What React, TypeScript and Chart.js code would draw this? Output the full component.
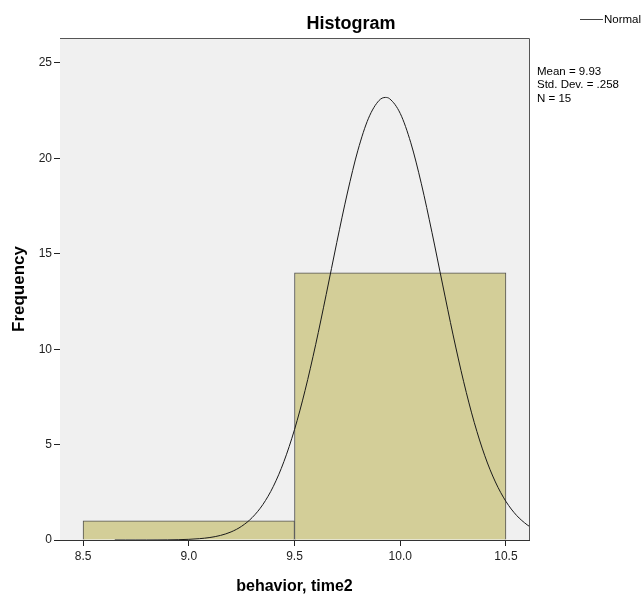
import React, { useEffect, useRef } from "react";
import { Chart, registerables } from "chart.js";

Chart.register(...registerables);

// ---- data ----
const binCenters = [9.0, 10.0];
const binCounts = [1, 14];
const xTickValues = [8.5, 9.0, 9.5, 10.0, 10.5];
const yTickValues = [0, 5, 10, 15, 20, 25];
const curveX = [
  8.65, 8.7, 8.75, 8.8, 8.85, 8.9, 8.95, 9.0, 9.05, 9.1, 9.15, 9.2, 9.25, 9.3,
  9.35, 9.4, 9.45, 9.5, 9.55, 9.6, 9.65, 9.7, 9.75, 9.8, 9.85, 9.9, 9.93, 9.95,
  10.0, 10.05, 10.1, 10.15, 10.2, 10.25, 10.3, 10.35, 10.4, 10.45, 10.5, 10.55,
  10.6, 10.61,
];
const curveY = [
  0.0001, 0.0003, 0.0007, 0.0016, 0.0036, 0.008, 0.017, 0.035, 0.069, 0.131,
  0.24, 0.424, 0.72, 1.176, 1.853, 2.811, 4.112, 5.785, 7.838, 10.236, 12.871,
  15.594, 18.185, 20.43, 22.105, 23.037, 23.195, 23.125, 22.358, 20.818, 18.67,
  16.125, 13.414, 10.749, 8.295, 6.165, 4.414, 3.043, 2.02, 1.292, 0.796, 0.72,
];
const statsLines = ["Mean = 9.93", "Std. Dev. = .258", "N = 15"];
const chartTitle = "Histogram";
const xTitle = "behavior, time2";
const yTitle = "Frequency";
const legendLabel = "Normal";

const X_MIN = 8.391;
const X_MAX = 10.609;
const Y_MAX = 26.31;

const FONT = "'Liberation Sans', Arial, sans-serif";

const decorPlugin = {
  id: "decor",
  beforeDatasetsDraw(chart: any) {
    const { ctx, chartArea } = chart;
    ctx.save();
    ctx.fillStyle = "#f0f0f0";
    ctx.fillRect(
      chartArea.left,
      chartArea.top,
      chartArea.right - chartArea.left,
      chartArea.bottom - chartArea.top
    );
    ctx.restore();
  },
  afterDraw(chart: any) {
    const { ctx, chartArea } = chart;
    ctx.save();
    // frame (top & right)
    ctx.strokeStyle = "#555";
    ctx.lineWidth = 1;
    ctx.beginPath();
    ctx.moveTo(chartArea.left, chartArea.top + 0.5);
    ctx.lineTo(chartArea.right + 0.5, chartArea.top + 0.5);
    ctx.lineTo(chartArea.right + 0.5, chartArea.bottom);
    ctx.stroke();

    // title
    ctx.fillStyle = "#000";
    ctx.font = `bold 18px ${FONT}`;
    ctx.textAlign = "center";
    ctx.textBaseline = "alphabetic";
    ctx.fillText(chartTitle, 351, 28.5);

    // legend
    ctx.strokeStyle = "#444";
    ctx.beginPath();
    ctx.moveTo(580, 19.5);
    ctx.lineTo(603, 19.5);
    ctx.stroke();
    ctx.font = `11.5px ${FONT}`;
    ctx.textAlign = "left";
    ctx.textBaseline = "middle";
    ctx.fillStyle = "#000";
    ctx.fillText(legendLabel, 604, 19.5);

    // stats
    ctx.textBaseline = "alphabetic";
    const baselines = [75, 88, 101.5];
    statsLines.forEach((t, i) => ctx.fillText(t, 537, baselines[i]));
    ctx.restore();
  },
};

export default function App() {
  const ref = useRef<HTMLCanvasElement | null>(null);

  useEffect(() => {
    if (!ref.current) return;
    const chart = new Chart(ref.current, {
      type: "bar",
      data: {
        datasets: [
          {
            type: "line",
            label: legendLabel,
            xAxisID: "x",
            yAxisID: "y",
            order: 0,
            data: curveX.map((x, i) => ({ x, y: curveY[i] })),
            borderColor: "#1a1a1a",
            borderWidth: 1,
            pointRadius: 0,
            cubicInterpolationMode: "monotone",
            fill: false,
          } as any,
          {
            type: "bar",
            label: "Frequency",
            xAxisID: "xb",
            yAxisID: "y",
            order: 1,
            data: binCenters.map((x, i) => ({ x, y: binCounts[i] })),
            backgroundColor: "#d3ce98",
            borderColor: "#505050",
            borderWidth: 1,
            barPercentage: 1,
            categoryPercentage: 1,
            grouped: false,
          } as any,
        ],
      },
      options: {
        responsive: false,
        animation: false,
        devicePixelRatio: 1,
        layout: { padding: { left: 0, top: 38, right: 114, bottom: 0 } },
        plugins: {
          legend: { display: false },
          tooltip: { enabled: false },
          title: { display: false },
        },
        scales: {
          x: {
            type: "linear",
            position: "bottom",
            min: X_MIN,
            max: X_MAX,
            offset: false,
            afterBuildTicks: (s: any) => {
              s.ticks = xTickValues.map((v) => ({ value: v }));
            },
            afterFit: (s: any) => {
              s.height = 56;
            },
            ticks: {
              callback: (v: any) => Number(v).toFixed(1),
              font: { family: FONT, size: 12 },
              color: "#222",
              padding: 3,
              autoSkip: false,
              maxRotation: 0,
            },
            grid: {
              display: true,
              drawOnChartArea: false,
              drawTicks: true,
              tickLength: 6,
              tickColor: "#222",
              offset: false,
            },
            border: { display: true, color: "#333", width: 1 },
            title: {
              display: true,
              text: xTitle,
              color: "#000",
              font: { family: FONT, size: 16, weight: "bold" },
              padding: { top: 4, bottom: 0 },
            },
          },
          xb: {
            type: "linear",
            display: false,
            min: X_MIN,
            max: X_MAX,
            offset: false,
            afterBuildTicks: (s: any) => {
              s.ticks = [];
            },
            grid: { offset: false },
          },
          y: {
            type: "linear",
            position: "left",
            min: 0,
            max: Y_MAX,
            afterBuildTicks: (s: any) => {
              s.ticks = yTickValues.map((v) => ({ value: v }));
            },
            afterFit: (s: any) => {
              s.width = 60;
            },
            ticks: {
              font: { family: FONT, size: 12 },
              color: "#222",
              padding: 2,
            },
            grid: {
              display: true,
              drawOnChartArea: false,
              drawTicks: true,
              tickLength: 6,
              tickColor: "#222",
            },
            border: { display: true, color: "#333", width: 1 },
            title: {
              display: true,
              text: yTitle,
              color: "#000",
              font: { family: FONT, size: 17, weight: "bold" },
              padding: { top: 9, bottom: 0 },
            },
          },
        },
      } as any,
      plugins: [decorPlugin],
    });
    return () => chart.destroy();
  }, []);

  return (
    <div
      style={{
        position: "absolute",
        left: 0,
        top: 0,
        width: 643,
        height: 596,
        background: "#fff",
      }}
    >
      <canvas ref={ref} width={643} height={596} style={{ display: "block" }} />
    </div>
  );
}
